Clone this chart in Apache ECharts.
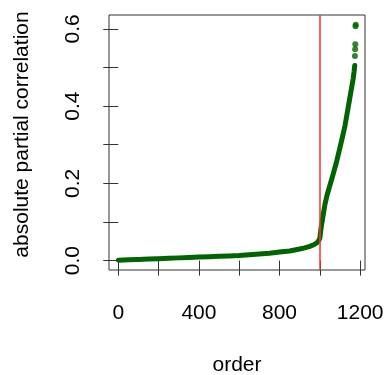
<!DOCTYPE html>
<html>
<head>
<meta charset="utf-8">
<script src="https://cdn.jsdelivr.net/npm/echarts@6/dist/echarts.min.js"></script>
<style>
  html, body { margin: 0; padding: 0; background: #fff; }
  #chart { width: 385px; height: 375px; }
</style>
</head>
<body>
<div id="chart"></div>
<script>
// sorted absolute partial correlations (dense part)
var order = [1, 50, 100, 150, 200, 250, 300, 350, 400, 450, 500, 550, 600, 650, 700, 750,
  800, 850, 900, 925, 950, 970, 985, 995, 1000, 1005, 1014, 1025, 1035, 1050, 1065,
  1080, 1095, 1110, 1125, 1135, 1145, 1155, 1165, 1170, 1173];
var absCorr = [0.001, 0.002, 0.003, 0.004, 0.005, 0.006, 0.007, 0.008, 0.009, 0.010, 0.011,
  0.012, 0.013, 0.015, 0.017, 0.019, 0.022, 0.025, 0.030, 0.033, 0.037, 0.041, 0.046, 0.052,
  0.058, 0.080, 0.110, 0.145, 0.168, 0.195, 0.222, 0.250, 0.282, 0.315, 0.350, 0.380, 0.410,
  0.440, 0.470, 0.490, 0.505];
// the few isolated largest values
var topOrder = [1174, 1175, 1176, 1177, 1178];
var topCorr = [0.530, 0.547, 0.560, 0.607, 0.611];
var cutoff = 1000;

var xTicks = [0, 200, 400, 600, 800, 1000, 1200];
var xLabels = [0, 400, 800, 1200];
var yTicks = [0, 0.1, 0.2, 0.3, 0.4, 0.5, 0.6];
var yLabels = [0, 0.2, 0.4, 0.6];

var mainData = order.map(function (o, i) { return [o, absCorr[i]]; });
var topData = topOrder.map(function (o, i) { return [o, topCorr[i]]; });

var font = 'Liberation Sans, Arial, Helvetica, sans-serif';
var green = '#006400';

var chart = echarts.init(document.getElementById('chart'), null, { renderer: 'canvas' });
chart.setOption({
  animation: false,
  grid: {
    left: 109, right: 20, top: 15, bottom: 105,
    containLabel: false, outerBoundsMode: 'none',
    show: true, borderColor: '#333', borderWidth: 1, backgroundColor: 'transparent'
  },
  xAxis: {
    type: 'value', min: -46, max: 1224,
    name: 'order', nameLocation: 'middle', nameGap: 85,
    nameTextStyle: { fontFamily: font, fontSize: 21, color: '#000' },
    splitLine: { show: false },
    axisLine: { show: false },
    axisTick: { show: true, inside: false, length: 15, customValues: xTicks,
      lineStyle: { color: '#333', width: 1 } },
    axisLabel: { show: true, customValues: xLabels, margin: 33,
      fontFamily: font, fontSize: 21, color: '#000',
      formatter: function (v) { return String(v); } }
  },
  yAxis: {
    type: 'value', min: -0.0244, max: 0.636,
    name: 'absolute partial correlation', nameLocation: 'middle', nameGap: 76,
    nameTextStyle: { fontFamily: font, fontSize: 21, color: '#000', padding: [0, 0, 0, 16] },
    splitLine: { show: false },
    axisLine: { show: false },
    axisTick: { show: true, inside: false, length: 15, customValues: yTicks,
      lineStyle: { color: '#333', width: 1 } },
    axisLabel: { show: true, customValues: yLabels, rotate: 90, margin: 25,
      fontFamily: font, fontSize: 21, color: '#000',
      formatter: function (v) { return v.toFixed(1); } }
  },
  series: [
    {
      type: 'line',
      data: mainData,
      showSymbol: false,
      smooth: false,
      lineStyle: { color: green, width: 5, cap: 'round', join: 'round' },
      z: 2,
      markLine: {
        silent: true,
        symbol: ['none', 'none'],
        label: { show: false },
        lineStyle: { color: '#ff3030', width: 1.5, type: 'solid' },
        data: [{ xAxis: cutoff }]
      }
    },
    {
      type: 'scatter',
      data: topData,
      symbol: 'circle',
      symbolSize: 6,
      itemStyle: { color: green },
      z: 2
    }
  ]
});
</script>
</body>
</html>
